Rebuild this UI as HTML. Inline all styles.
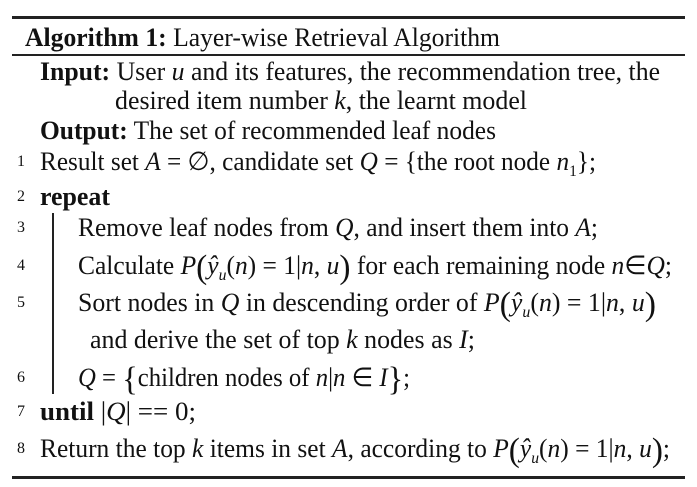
<!DOCTYPE html>
<html><head><meta charset="utf-8"><style>
html,body{margin:0;padding:0;background:#fff;}
body{width:697px;height:487px;position:relative;overflow:hidden;font-family:"Liberation Serif",serif;color:#111;}
.r{position:absolute;left:12px;width:673px;background:#222;}
.l{position:absolute;white-space:nowrap;font-size:26px;line-height:30px;transform-origin:0 50%;}
.n{position:absolute;font-size:16px;line-height:20px;left:17px;}
b{font-weight:bold;}
i{font-style:italic;}
.bp{font-size:34px;vertical-align:-4px;line-height:20px;font-weight:300;}
sub{font-size:16px;}
</style></head><body>
<div class="r" style="top:16px;height:3px"></div>
<div class="r" style="top:54px;height:2px"></div>
<div class="r" style="top:476px;height:3px"></div>
<div style="position:absolute;left:52px;top:213px;width:1.5px;height:181px;background:#222"></div>

<div class="l" id="t0" style="left:25px;top:23px"><b>Algorithm 1:</b> Layer-wise Retrieval Algorithm</div>
<div class="l" id="t1" style="left:40px;top:57px"><b>Input:</b> User <i>u</i> and its features, the recommendation tree, the</div>
<div class="l" id="t2" style="left:115px;top:86px">desired item number <i>k</i>, the learnt model</div>
<div class="l" id="t3" style="left:40px;top:116px"><b>Output:</b> The set of recommended leaf nodes</div>
<div class="l" id="t4" style="left:40px;top:147px">Result set <i>A</i> = ∅, candidate set <i>Q</i> = {the root node <i>n</i><sub>1</sub>};</div>
<div class="l" id="t5" style="left:40px;top:182px"><b>repeat</b></div>
<div class="l" id="t6" style="left:78px;top:213px">Remove leaf nodes from <i>Q</i>, and insert them into <i>A</i>;</div>
<div class="l" id="t7" style="left:78px;top:251px">Calculate <i>P</i><span class="bp">(</span><i>ŷ<sub>u</sub></i>(<i>n</i>) = 1|<i>n</i>, <i>u</i><span class="bp">)</span> for each remaining node <i>n</i>∈<i>Q</i>;</div>
<div class="l" id="t8" style="left:78px;top:288px">Sort nodes in <i>Q</i> in descending order of <i>P</i><span class="bp">(</span><i>ŷ<sub>u</sub></i>(<i>n</i>) = 1|<i>n</i>, <i>u</i><span class="bp">)</span></div>
<div class="l" id="t9" style="left:90px;top:325px">and derive the set of top <i>k</i> nodes as <i>I</i>;</div>
<div class="l" id="t10" style="left:78px;top:363px"><i>Q</i> = <span class="bp">{</span>children nodes of <i>n</i>|<i>n</i> ∈ <i>I</i><span class="bp">}</span>;</div>
<div class="l" id="t11" style="left:40px;top:397px"><b>until</b> |<i>Q</i>| == 0;</div>
<div class="l" id="t12" style="left:40px;top:434px">Return the top <i>k</i> items in set <i>A</i>, according to <i>P</i><span class="bp">(</span><i>ŷ<sub>u</sub></i>(<i>n</i>) = 1|<i>n</i>, <i>u</i><span class="bp">)</span>;</div>

<div class="n" style="top:152px">1</div>
<div class="n" style="top:187px">2</div>
<div class="n" style="top:218px">3</div>
<div class="n" style="top:256px">4</div>
<div class="n" style="top:293px">5</div>
<div class="n" style="top:368px">6</div>
<div class="n" style="top:402px">7</div>
<div class="n" style="top:439px">8</div>
<script>
var W=[475,620,412,456,556,70,520,594,578,385,332,156,630];
for(var k=0;k<W.length;k++){var e=document.getElementById('t'+k);var w=e.getBoundingClientRect().width;if(w>0)e.style.transform='scaleX('+(W[k]/w)+')';}
</script>
</body></html>
